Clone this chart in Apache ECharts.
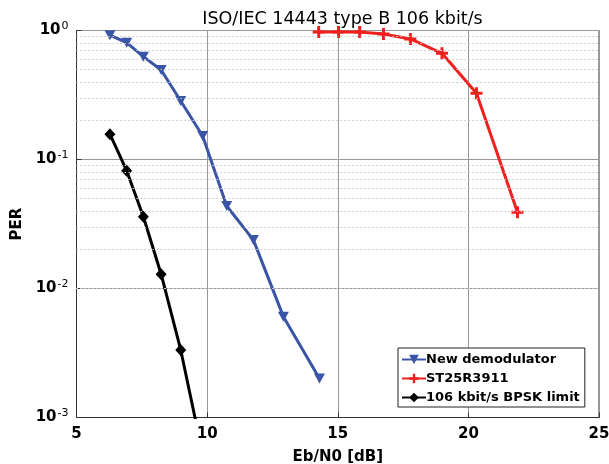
<!DOCTYPE html>
<html><head><meta charset="utf-8">
<script src="https://cdn.jsdelivr.net/npm/echarts@6/dist/echarts.min.js"></script>
<style>html,body{margin:0;padding:0;background:#fff}#c{width:609px;height:464px}</style>
</head><body><div id="c"></div>
<script>
const titleText = 'ISO/IEC 14443 type B 106 kbit/s';
const xTicks = [5, 10, 15, 20, 25];
const yTicks = [0.001, 0.01, 0.1, 1];
const newDemodX = [6.28, 6.92, 7.56, 8.24, 8.99, 9.83, 10.75, 11.77, 12.92, 14.30];
const newDemodY = [0.92, 0.805, 0.627, 0.494, 0.284, 0.152, 0.0436, 0.0238, 0.00605, 0.00201];
const stX = [14.27, 15.03, 15.84, 16.75, 17.78, 18.99, 20.31, 21.88];
const stY = [0.975, 0.975, 0.972, 0.94, 0.86, 0.666, 0.326, 0.039];
const bpskX = [6.28, 6.92, 7.56, 8.24, 8.99, 9.83];
const bpskY = [0.157, 0.0819, 0.036, 0.0129, 0.00334, 0.00052];

const zip = (xs, ys) => xs.map((x, i) => [x, ys[i]]);
const minorLines = [];
[0.001, 0.01, 0.1].forEach(d => { for (let k = 2; k <= 9; k++) minorLines.push({ yAxis: d * k }); });

const FONT = 'DejaVu Sans';
const plusPath = 'path://M3.75,0h2.5v3.75h3.75v2.5h-3.75v3.75h-2.5v-3.75h-3.75v-2.5h3.75z';

const chart = echarts.init(document.getElementById('c'));
chart.setOption({
  animation: false,
  textStyle: { fontFamily: FONT },
  title: { text: titleText, top: 5, left: 337.5, textAlign: 'center',
    textStyle: { fontFamily: FONT, fontSize: 17.5, fontWeight: 'normal', color: '#000' } },
  grid: { left: 76.5, right: 10, top: 30.5, bottom: 46.5, outerBoundsMode: 'none', containLabel: false,
    show: true, borderColor: '#333', borderWidth: 1, backgroundColor: '#fff' },
  legend: {
    data: ['New demodulator', 'ST25R3911', '106 kbit/s BPSK limit'],
    orient: 'vertical', left: 398, top: 348, itemWidth: 24, itemHeight: 12, itemGap: 6,
    padding: [5, 5, 3, 3], backgroundColor: '#fff', borderColor: '#222', borderWidth: 1, borderRadius: 0,
    textStyle: { fontFamily: FONT, fontSize: 13, fontWeight: 'bold', color: '#000', padding: [0, 0, 0, -5] }
  },
  xAxis: {
    type: 'value', min: 5, max: 25, interval: 5,
    name: 'Eb/N0 [dB]', nameLocation: 'middle', nameGap: 32,
    nameTextStyle: { fontFamily: FONT, fontSize: 15, fontWeight: 'bold', color: '#000' },
    axisLine: { show: true, lineStyle: { color: '#333' } },
    axisTick: { show: true, inside: true, length: 5, lineStyle: { color: '#333' } },
    axisLabel: { fontFamily: FONT, fontSize: 15, fontWeight: 'bold', color: '#000', margin: 9,
      formatter: v => xTicks.includes(v) ? String(v) : '' },
    splitLine: { show: true, lineStyle: { color: '#999', width: 1 } }
  },
  yAxis: {
    type: 'log', logBase: 10, min: 0.001, max: 1,
    name: 'PER', nameLocation: 'middle', nameGap: 49,
    nameTextStyle: { fontFamily: FONT, fontSize: 15, fontWeight: 'bold', color: '#000' },
    axisLine: { show: true, lineStyle: { color: '#333' } },
    axisTick: { show: true, inside: true, length: 5, lineStyle: { color: '#333' } },
    axisLabel: { margin: 8, color: '#000',
      formatter: v => '{b|10}{s|' + Math.round(Math.log10(v)) + '}',
      rich: { b: { fontFamily: FONT, fontSize: 15, fontWeight: 'bold', color: '#000' },
              s: { fontFamily: FONT, fontSize: 11, color: '#000', verticalAlign: 'bottom', padding: [0, 0, 9, 1] } } },
    splitLine: { show: true, lineStyle: { color: '#999', width: 1 } }
  },
  series: [
    { name: 'grid-minor', type: 'line', data: [], silent: true, z: 1,
      markLine: { silent: true, symbol: ['none', 'none'], label: { show: false }, animation: false,
        lineStyle: { color: '#c4c4c4', type: [1.5, 2.5], width: 1 }, data: minorLines } },
    { name: 'New demodulator', type: 'line', data: zip(newDemodX, newDemodY), z: 3,
      symbol: 'triangle', symbolRotate: 180, symbolSize: [11, 10],
      lineStyle: { color: '#3a55a6', width: 3 }, itemStyle: { color: '#3a55a6' } },
    { name: 'ST25R3911', type: 'line', data: zip(stX, stY), z: 3,
      symbol: plusPath, symbolSize: 12,
      lineStyle: { color: '#f0201f', width: 3 }, itemStyle: { color: '#f0201f' } },
    { name: '106 kbit/s BPSK limit', type: 'line', data: zip(bpskX, bpskY), z: 3, clip: true,
      symbol: 'diamond', symbolSize: [11, 12],
      lineStyle: { color: '#000', width: 3 }, itemStyle: { color: '#000' } }
  ]
});
</script></body></html>
